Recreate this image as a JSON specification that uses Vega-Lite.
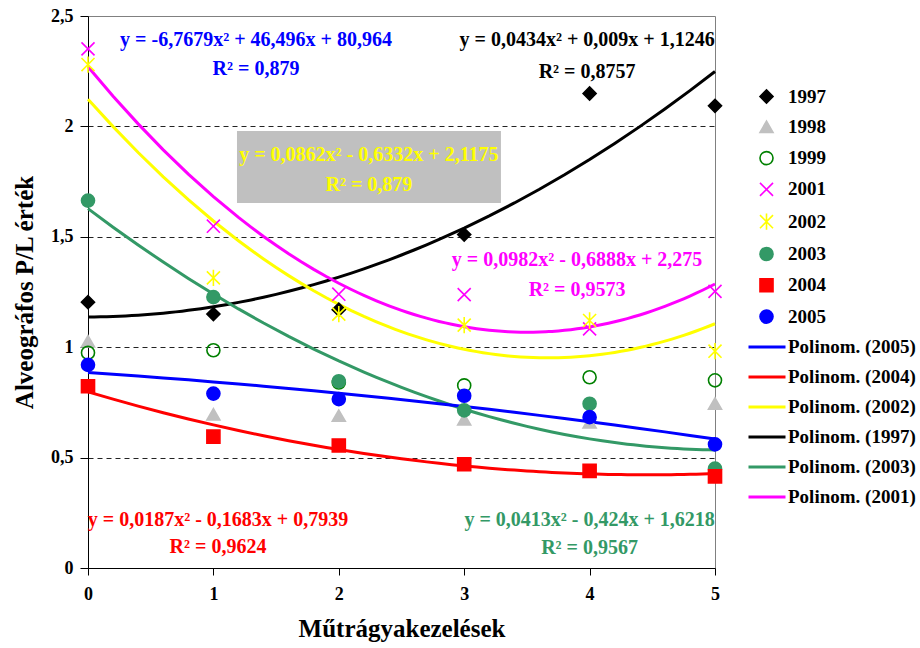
{
  "$schema": "https://vega.github.io/schema/vega-lite/v6.json",
  "width": 627,
  "height": 552,
  "autosize": {"type": "none"},
  "padding": {"left": 88, "top": 16, "right": 205, "bottom": 80},
  "background": "white",
  "config": {
    "font": "Liberation Serif",
    "view": {"stroke": "#808080", "strokeWidth": 1},
    "axis": {
      "domainColor": "#000",
      "tickColor": "#000",
      "labelColor": "#000",
      "titleColor": "#000",
      "labelFont": "Liberation Serif",
      "titleFont": "Liberation Serif",
      "labelFontWeight": "bold",
      "titleFontWeight": "bold",
      "labelFontSize": 18,
      "titleFontSize": 25,
      "labelFlush": false,
      "labelOverlap": false
    },
    "legend": {
      "labelFont": "Liberation Serif",
      "labelFontWeight": "bold",
      "labelFontSize": 19,
      "labelColor": "#000"
    }
  },
  "datasets": {
    "pts": [
      {"year": "1997", "x": 0, "y": 1.204},
      {"year": "1997", "x": 1, "y": 1.15},
      {"year": "1997", "x": 2, "y": 1.17},
      {"year": "1997", "x": 3, "y": 1.51},
      {"year": "1997", "x": 4, "y": 2.149},
      {"year": "1997", "x": 5, "y": 2.093},
      {"year": "1998", "x": 0, "y": 1.027},
      {"year": "1998", "x": 1, "y": 0.696},
      {"year": "1998", "x": 2, "y": 0.69},
      {"year": "1998", "x": 3, "y": 0.673},
      {"year": "1998", "x": 4, "y": 0.66},
      {"year": "1998", "x": 5, "y": 0.745},
      {"year": "1999", "x": 0, "y": 0.975},
      {"year": "1999", "x": 1, "y": 0.986},
      {"year": "1999", "x": 2, "y": 0.84},
      {"year": "1999", "x": 3, "y": 0.827},
      {"year": "1999", "x": 4, "y": 0.864},
      {"year": "1999", "x": 5, "y": 0.85},
      {"year": "2001", "x": 0, "y": 2.351},
      {"year": "2001", "x": 1, "y": 1.548},
      {"year": "2001", "x": 2, "y": 1.24},
      {"year": "2001", "x": 3, "y": 1.238},
      {"year": "2001", "x": 4, "y": 1.083},
      {"year": "2001", "x": 5, "y": 1.253},
      {"year": "2002", "x": 0, "y": 2.28},
      {"year": "2002", "x": 1, "y": 1.314},
      {"year": "2002", "x": 2, "y": 1.15},
      {"year": "2002", "x": 3, "y": 1.1},
      {"year": "2002", "x": 4, "y": 1.121},
      {"year": "2002", "x": 5, "y": 0.982},
      {"year": "2003", "x": 0, "y": 1.664},
      {"year": "2003", "x": 1, "y": 1.227},
      {"year": "2003", "x": 2, "y": 0.846},
      {"year": "2003", "x": 3, "y": 0.714},
      {"year": "2003", "x": 4, "y": 0.744},
      {"year": "2003", "x": 5, "y": 0.45},
      {"year": "2004", "x": 0, "y": 0.823},
      {"year": "2004", "x": 1, "y": 0.595},
      {"year": "2004", "x": 2, "y": 0.555},
      {"year": "2004", "x": 3, "y": 0.47},
      {"year": "2004", "x": 4, "y": 0.44},
      {"year": "2004", "x": 5, "y": 0.415},
      {"year": "2005", "x": 0, "y": 0.92},
      {"year": "2005", "x": 1, "y": 0.79},
      {"year": "2005", "x": 2, "y": 0.765},
      {"year": "2005", "x": 3, "y": 0.78},
      {"year": "2005", "x": 4, "y": 0.683},
      {"year": "2005", "x": 5, "y": 0.56}
    ],
    "notes": [
      {"series": "2005", "x": 1.34, "y": 2.391, "text": "y = -6,7679x² + 46,496x + 80,964"},
      {"series": "2005", "x": 1.34, "y": 2.26, "text": "R² = 0,879"},
      {"series": "1997", "x": 3.98, "y": 2.391, "text": "y = 0,0434x² + 0,009x + 1,1246"},
      {"series": "1997", "x": 3.98, "y": 2.246, "text": "R² = 0,8757"},
      {"series": "2002", "x": 2.24, "y": 1.87, "text": "y = 0,0862x² - 0,6332x + 2,1175"},
      {"series": "2002", "x": 2.24, "y": 1.735, "text": "R² = 0,879"},
      {"series": "2001", "x": 3.9, "y": 1.395, "text": "y = 0,0982x² - 0,6888x + 2,275"},
      {"series": "2001", "x": 3.9, "y": 1.259, "text": "R² = 0,9573"},
      {"series": "2004", "x": 1.037, "y": 0.217, "text": "y = 0,0187x² - 0,1683x + 0,7939"},
      {"series": "2004", "x": 1.037, "y": 0.095, "text": "R² = 0,9624"},
      {"series": "2003", "x": 4.0, "y": 0.217, "text": "y = 0,0413x² - 0,424x + 1,6218"},
      {"series": "2003", "x": 4.0, "y": 0.091, "text": "R² = 0,9567"}
    ],
    "box": [
      {"x": 1.188, "x2": 3.293, "y": 1.979, "y2": 1.653}
    ]
  },
  "encoding": {
    "x": {
      "field": "x",
      "type": "quantitative",
      "scale": {"domain": [0, 5], "nice": false, "zero": false},
      "axis": {
        "title": "Műtrágyakezelések",
        "values": [0, 1, 2, 3, 4, 5],
        "format": "d",
        "grid": false,
        "tickSize": 7,
        "labelPadding": 10,
        "titlePadding": 13
      }
    },
    "y": {
      "field": "y",
      "type": "quantitative",
      "scale": {"domain": [0, 2.5], "nice": false},
      "axis": {
        "title": "Alveográfos P/L érték",
        "values": [0, 0.5, 1, 1.5, 2, 2.5],
        "labelExpr": "replace(format(datum.value, '~g'), '.', ',')",
        "grid": true,
        "gridColor": {"condition": {"test": "datum.value == 0 || datum.value == 2.5", "value": "transparent"}, "value": "#222222"},
        "gridDash": [5, 4],
        "gridWidth": 1,
        "tickSize": 8,
        "labelPadding": 7,
        "titlePadding": 13
      }
    }
  },
  "layer": [
    {
      "data": {"name": "box"},
      "mark": {"type": "rect", "color": "#c0c0c0"},
      "encoding": {
        "x2": {"field": "x2"},
        "y2": {"field": "y2"}
      }
    },
    {
      "data": {"name": "pts"},
      "transform": [
        {"filter": {"field": "year", "oneOf": ["2005", "2004", "2002", "1997", "2003", "2001"]}},
        {"regression": "y", "on": "x", "method": "poly", "order": 2, "groupby": ["year"], "extent": [0, 5]}
      ],
      "mark": {"type": "line", "strokeWidth": 3},
      "encoding": {
        "color": {
          "field": "year",
          "type": "nominal",
          "scale": {
            "domain": ["2005", "2004", "2002", "1997", "2003", "2001"],
            "range": ["#0000ff", "#ff0000", "#ffff00", "#000000", "#339966", "#ff00ff"]
          },
          "legend": {
            "title": null,
            "orient": "none",
            "legendX": 659,
            "legendY": 311,
            "labelExpr": "'Polinom. (' + datum.label + ')'",
            "symbolType": "stroke",
            "symbolSize": 1369,
            "symbolStrokeWidth": 3,
            "rowPadding": -5,
            "labelOffset": 1
          }
        }
      }
    },
    {
      "data": {"name": "pts"},
      "mark": {"type": "point", "size": 170, "strokeWidth": 1.6, "opacity": 1},
      "encoding": {
        "shape": {
          "field": "year",
          "type": "nominal",
          "scale": {
            "domain": ["1997", "1998", "1999", "2001", "2002", "2003", "2004", "2005"],
            "range": ["diamond", "triangle-up", "circle", "M-1,-1L1,1M-1,1L1,-1", "M-1,-1L1,1M-1,1L1,-1M0,-1.25L0,1.25", "circle", "square", "circle"]
          },
          "legend": {"title": null, "orient": "none", "legendX": 669, "legendY": 71, "rowPadding": 10.3, "labelOffset": 12, "symbolStrokeWidth": 1.6, "symbolSize": 170, "symbolOpacity": 1}
        },
        "fill": {
          "field": "year",
          "type": "nominal",
          "scale": {
            "domain": ["1997", "1998", "1999", "2001", "2002", "2003", "2004", "2005"],
            "range": ["#000000", "#c0c0c0", "transparent", "transparent", "transparent", "#339966", "#ff0000", "#0000ff"]
          },
          "legend": {"title": null, "orient": "none", "legendX": 669, "legendY": 71, "rowPadding": 10.3, "labelOffset": 12, "symbolStrokeWidth": 1.6, "symbolSize": 170, "symbolOpacity": 1}
        },
        "stroke": {
          "field": "year",
          "type": "nominal",
          "scale": {
            "domain": ["1997", "1998", "1999", "2001", "2002", "2003", "2004", "2005"],
            "range": ["#000000", "#c0c0c0", "#008000", "#ff00ff", "#ffff00", "#339966", "#ff0000", "#0000ff"]
          },
          "legend": {"title": null, "orient": "none", "legendX": 669, "legendY": 71, "rowPadding": 10.3, "labelOffset": 12, "symbolStrokeWidth": 1.6, "symbolSize": 170, "symbolOpacity": 1}
        }
      }
    },
    {
      "data": {"name": "notes"},
      "transform": [{"filter": "datum.series == '2005'"}],
      "mark": {"type": "text", "color": "#0000ff", "fontSize": 20, "fontWeight": "bold", "font": "Liberation Serif", "align": "center", "baseline": "middle"},
      "encoding": {"text": {"field": "text"}}
    },
    {
      "data": {"name": "notes"},
      "transform": [{"filter": "datum.series == '1997'"}],
      "mark": {"type": "text", "color": "#000000", "fontSize": 20, "fontWeight": "bold", "font": "Liberation Serif", "align": "center", "baseline": "middle"},
      "encoding": {"text": {"field": "text"}}
    },
    {
      "data": {"name": "notes"},
      "transform": [{"filter": "datum.series == '2002'"}],
      "mark": {"type": "text", "color": "#ffff00", "fontSize": 20, "fontWeight": "bold", "font": "Liberation Serif", "align": "center", "baseline": "middle"},
      "encoding": {"text": {"field": "text"}}
    },
    {
      "data": {"name": "notes"},
      "transform": [{"filter": "datum.series == '2001'"}],
      "mark": {"type": "text", "color": "#ff00ff", "fontSize": 20, "fontWeight": "bold", "font": "Liberation Serif", "align": "center", "baseline": "middle"},
      "encoding": {"text": {"field": "text"}}
    },
    {
      "data": {"name": "notes"},
      "transform": [{"filter": "datum.series == '2004'"}],
      "mark": {"type": "text", "color": "#ff0000", "fontSize": 20, "fontWeight": "bold", "font": "Liberation Serif", "align": "center", "baseline": "middle"},
      "encoding": {"text": {"field": "text"}}
    },
    {
      "data": {"name": "notes"},
      "transform": [{"filter": "datum.series == '2003'"}],
      "mark": {"type": "text", "color": "#339966", "fontSize": 20, "fontWeight": "bold", "font": "Liberation Serif", "align": "center", "baseline": "middle"},
      "encoding": {"text": {"field": "text"}}
    }
  ]
}
